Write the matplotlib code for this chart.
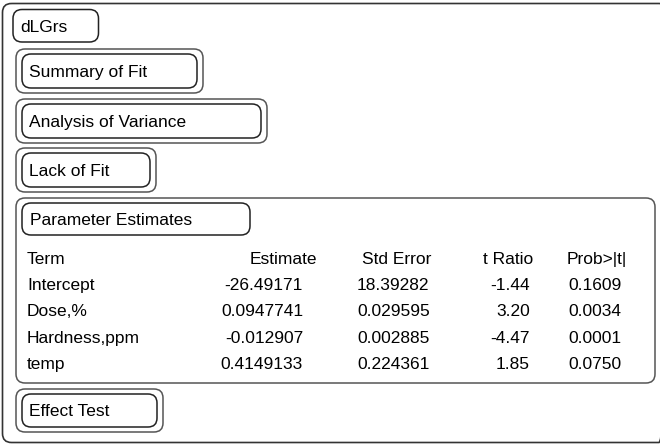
import matplotlib
matplotlib.use('Agg')
import matplotlib.pyplot as plt
from matplotlib.patches import FancyBboxPatch

# report content
title = 'dLGrs'
closed_sections = ['Summary of Fit', 'Analysis of Variance', 'Lack of Fit']
open_section = 'Parameter Estimates'
last_section = 'Effect Test'

columns = ['Term', 'Estimate', 'Std Error', 't Ratio', 'Prob>|t|']
terms = ['Intercept', 'Dose,%', 'Hardness,ppm', 'temp']
estimate = [-26.49171, 0.0947741, -0.012907, 0.4149133]
std_error = [18.39282, 0.029595, 0.002885, 0.224361]
t_ratio = [-1.44, 3.20, -4.47, 1.85]
prob_t = [0.1609, 0.0034, 0.0001, 0.0750]

plt.rcParams['font.family'] = ['Liberation Sans', 'DejaVu Sans']
FS = 12.5
DY_TXT = 1.5  # nudge text down so the caps sit centred

fig = plt.figure(figsize=(6.6, 4.45), dpi=100)
ax = fig.add_axes([0, 0, 1, 1])
ax.set_xlim(0, 660)
ax.set_ylim(445, 0)
ax.axis('off')


def rbox(x0, y0, x1, y1, color='#222222', r=9, lw=1.1):
    p = FancyBboxPatch((x0, y0), x1 - x0, y1 - y0,
                       boxstyle='round,pad=0,rounding_size=%g' % r,
                       fc='none', ec=color, lw=lw)
    ax.add_patch(p)


def txt(x, y, s, **kw):
    ax.text(x, y + DY_TXT, s, fontsize=FS, va='center', **kw)


# outer frame (runs off the right edge)
rbox(2.5, 3.5, 668, 442.5, color='#333333', lw=1.2)

# title box
rbox(13, 9.5, 98.5, 42)
txt(20, 26, title)

# collapsed sections: outline box with title box inside
tops = [49, 99, 148]
rights = [203, 267, 156]
for name, top, right in zip(closed_sections, tops, rights):
    rbox(16, top, right, top + 44, color='#555555')
    rbox(22, top + 5, right - 6, top + 39)
    txt(29, top + 22, name)

# open section with table
rbox(16, 198, 655, 383, color='#555555')
rbox(22, 203, 250, 235)
txt(30, 219, open_section)

y_head = 258
dy = 26.2
txt(27, y_head, columns[0])
txt(317, y_head, columns[1], ha='right')
txt(362, y_head, columns[2])
txt(533, y_head, columns[3], ha='right')
txt(567, y_head, columns[4])

for i, term in enumerate(terms):
    y = y_head + dy * (i + 1)
    txt(27, y, term)
    txt(303, y, str(estimate[i]), ha='right')
    txt(357, y, str(std_error[i]))
    txt(530, y, '%.2f' % t_ratio[i], ha='right')
    txt(568, y, '%.4f' % prob_t[i])

# last collapsed section
rbox(16, 389, 163, 432, color='#555555')
rbox(22, 394, 157, 427)
txt(29, 410.5, last_section)

fig.savefig('out.png', dpi=100)
